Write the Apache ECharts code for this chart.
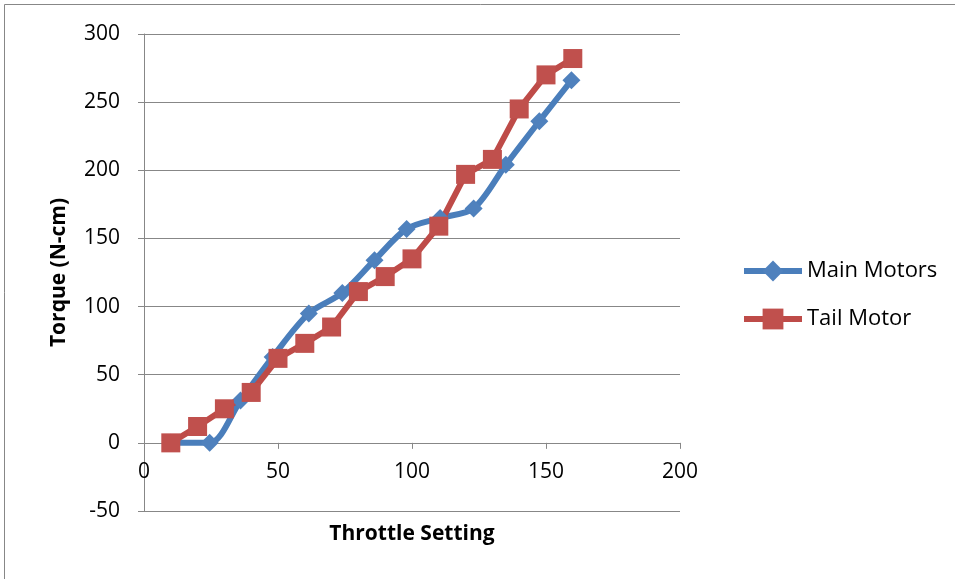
<!DOCTYPE html>
<html>
<head>
  <meta charset="utf-8" />
  <title>Torque vs Throttle Setting</title>
  <script src="https://cdn.jsdelivr.net/npm/echarts@6/dist/echarts.min.js"></script>
</head>
<body style="margin:0;background:#fff;">
  <div id="main" style="width:955px;height:579px;"></div>
  <script type="text/javascript">
    // data
    var mainMotors = [
      [10, 0], [24.5, 0], [36, 31], [48, 63], [61.5, 95], [74, 110], [86, 134],
      [98, 157], [110.5, 165], [123, 172], [135, 204], [147.5, 236], [159.5, 266]
    ];
    var tailMotor = [
      [10, 0], [20, 12], [30, 25], [40, 37], [50, 62], [60, 73], [70, 85], [80, 111],
      [90, 122], [100, 135], [110, 159], [120, 197], [130, 208], [140, 245], [150, 270], [160, 282]
    ];
    var seriesNames = ['Main Motors', 'Tail Motor'];

    var grey = '#878787';
    var font = "'Open Sans', 'Liberation Sans', sans-serif";
    var chart = echarts.init(document.getElementById('main'));
    chart.setOption({
      animation: false,
      graphic: [{
        type: 'rect',
        shape: { x: 4.5, y: 4.5, width: 1000, height: 1000 },
        style: { fill: 'none', stroke: grey, lineWidth: 1 }
      }],
      grid: { left: 144, right: 275, top: 34, bottom: 68, outerBoundsMode: 'none' },
      legend: {
        data: seriesNames,
        orient: 'vertical',
        left: 736,
        top: 255,
        itemGap: 26,
        itemWidth: 58,
        itemHeight: 26,
        lineStyle: { width: 6 },
        textStyle: { fontFamily: font, fontSize: 22, color: '#000' }
      },
      xAxis: {
        type: 'value',
        min: 0,
        max: 200,
        interval: 50,
        name: 'Throttle Setting',
        nameLocation: 'middle',
        nameGap: 13,
        nameTextStyle: { fontFamily: font, fontSize: 21, fontWeight: 'bold', color: '#000' },
        axisLine: { onZero: true, lineStyle: { color: grey } },
        axisTick: { show: true, length: 6, lineStyle: { color: grey } },
        axisLabel: { fontFamily: font, fontSize: 21, color: '#000', margin: -49 },
        splitLine: { show: false }
      },
      yAxis: {
        type: 'value',
        min: -50,
        max: 300,
        interval: 50,
        name: 'Torque (N-cm)',
        nameLocation: 'middle',
        nameGap: 74,
        nameTextStyle: { fontFamily: font, fontSize: 21, fontWeight: 'bold', color: '#000' },
        axisLine: { show: true, onZero: true, lineStyle: { color: grey } },
        axisTick: { show: true, length: 6, lineStyle: { color: grey } },
        axisLabel: { fontFamily: font, fontSize: 21, color: '#000', margin: 24 },
        splitLine: { show: true, lineStyle: { color: grey, width: 1 } }
      },
      series: [
        {
          name: seriesNames[0],
          type: 'line',
          data: mainMotors,
          smooth: 0.3,
          symbol: 'diamond',
          symbolSize: 18,
          itemStyle: { color: '#4F81BD' },
          lineStyle: { color: '#4A7EBB', width: 6 }
        },
        {
          name: seriesNames[1],
          type: 'line',
          data: tailMotor,
          symbol: 'rect',
          symbolSize: 19,
          itemStyle: { color: '#C0504D' },
          lineStyle: { color: '#BE4B48', width: 6 }
        }
      ]
    });
  </script>
</body>
</html>
